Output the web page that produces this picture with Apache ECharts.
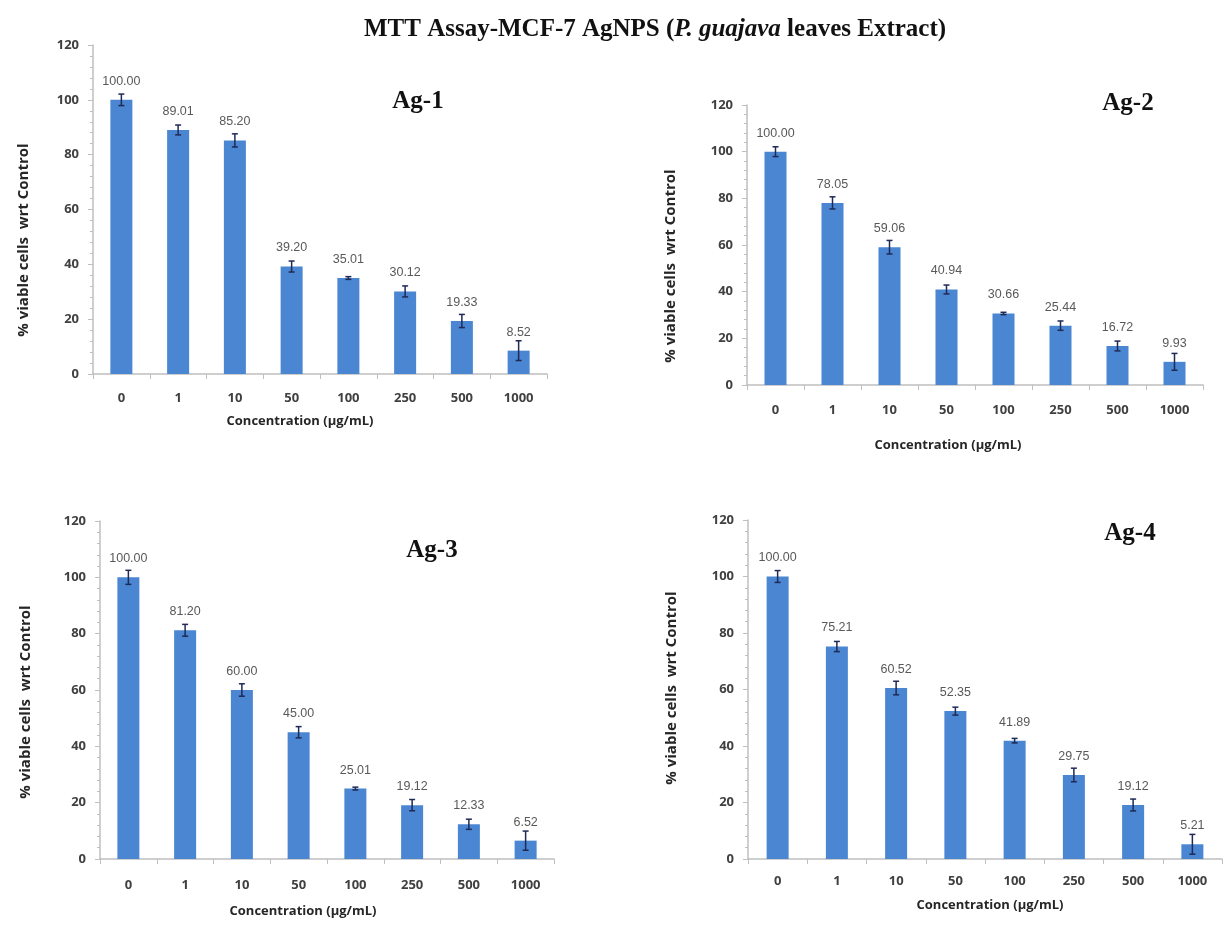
<!DOCTYPE html>
<html>
<head>
<meta charset="utf-8">
<script src="https://cdn.jsdelivr.net/npm/echarts@6/dist/echarts.min.js"></script>
<style>
html,body{margin:0;padding:0;background:#fff;}
#chart{width:1228px;height:928px;}
</style>
</head>
<body>
<div id="chart"></div>
<script>
const categories = ['0', '1', '10', '50', '100', '250', '500', '1000'];
const ag1 = [100.00, 89.01, 85.20, 39.20, 35.01, 30.12, 19.33, 8.52];
const ag1Err = [2.1, 1.8, 2.4, 2.0, 0.5, 2.0, 2.4, 3.6];
const ag2 = [100.00, 78.05, 59.06, 40.94, 30.66, 25.44, 16.72, 9.93];
const ag2Err = [2.1, 2.6, 2.9, 1.9, 0.5, 2.0, 2.1, 3.6];
const ag3 = [100.00, 81.20, 60.00, 45.00, 25.01, 19.12, 12.33, 6.52];
const ag3Err = [2.5, 2.1, 2.2, 2.0, 0.5, 2.0, 1.8, 3.4];
const ag4 = [100.00, 75.21, 60.52, 52.35, 41.89, 29.75, 19.12, 5.21];
const ag4Err = [2.1, 1.8, 2.4, 1.4, 0.8, 2.4, 2.1, 3.5];
const panelNames = ['Ag-1', 'Ag-2', 'Ag-3', 'Ag-4'];
const yMin = 0, yMax = 120, yStep = 20;
const mainTitle = ['MTT Assay-MCF-7 AgNPS (', 'P. guajava', ' leaves Extract)'];
const xTitle = 'Concentration (µg/mL)';
const yTitle = '% viable cells  wrt Control';

const values = [ag1, ag2, ag3, ag4];
const errs = [ag1Err, ag2Err, ag3Err, ag4Err];

const grids = [
  {left: 93, top: 45, width: 454, height: 329},
  {left: 747, top: 105, width: 456, height: 280},
  {left: 100, top: 521, width: 454, height: 338},
  {left: 748, top: 520, width: 474, height: 339}
];
const xLabelMargin = [18, 19, 20, 16];
const axisColor = '#BFBFBF';
const textDark = '#404040';
const barColor = '#4A86D2';
const errColor = '#1F2A55';
const labelFont = 'Open Sans';

const xAxes = [], yAxes = [], series = [];
grids.forEach((g, i) => {
  xAxes.push({
    type: 'category', gridIndex: i, data: categories,
    axisLine: {lineStyle: {color: axisColor, width: 1.5}},
    axisTick: {show: true, alignWithLabel: false, length: 5, lineStyle: {color: axisColor}},
    axisLabel: {color: textDark, fontFamily: labelFont, fontWeight: 'bold', fontSize: 13, margin: xLabelMargin[i]}
  });
  yAxes.push({
    type: 'value', gridIndex: i, min: yMin, max: yMax, interval: yStep,
    axisLine: {show: true, lineStyle: {color: axisColor, width: 1.5}},
    axisTick: {show: true, length: 5, lineStyle: {color: axisColor}},
    minorTick: {show: true, splitNumber: 5, length: 3, lineStyle: {color: axisColor}},
    splitLine: {show: false},
    axisLabel: {color: textDark, fontFamily: labelFont, fontWeight: 'bold', fontSize: 13, margin: 14}
  });
  series.push({
    type: 'bar', xAxisIndex: i, yAxisIndex: i, data: values[i], barWidth: 22,
    itemStyle: {color: barColor},
    label: {show: true, position: 'top', distance: 12, color: '#595959', fontFamily: 'Liberation Sans', fontSize: 12.5,
      formatter: p => p.value.toFixed(2)},
    z: 2
  });
  series.push({
    type: 'custom', xAxisIndex: i, yAxisIndex: i,
    data: values[i].map((v, k) => [k, v - errs[i][k], v + errs[i][k]]),
    renderItem: function (params, api) {
      const x = api.value(0);
      const lo = api.coord([x, api.value(1)]);
      const hi = api.coord([x, api.value(2)]);
      const cw = 3;
      const st = {stroke: errColor, lineWidth: 1.5};
      return {type: 'group', children: [
        {type: 'line', shape: {x1: lo[0], y1: lo[1], x2: hi[0], y2: hi[1]}, style: st},
        {type: 'line', shape: {x1: lo[0] - cw, y1: lo[1], x2: lo[0] + cw, y2: lo[1]}, style: st},
        {type: 'line', shape: {x1: hi[0] - cw, y1: hi[1], x2: hi[0] + cw, y2: hi[1]}, style: st}
      ]};
    },
    z: 3
  });
});

const panelTitlePos = [[418, 102], [1128, 104], [432, 551], [1130, 534]];
const xTitlePos = [[300, 421], [948, 445], [303, 911], [990, 905]];
const yTitlePos = [[24, 240], [671, 266], [26, 702], [672, 688]];

const graphics = [];
graphics.push({
  type: 'text', x: 655, y: 30,
  style: {
    text: '{b|' + mainTitle[0] + '}{i|' + mainTitle[1] + '}{b|' + mainTitle[2] + '}',
    align: 'center', verticalAlign: 'middle',
    rich: {
      b: {fontFamily: 'Liberation Serif', fontWeight: 'bold', fontSize: 25, fill: '#111'},
      i: {fontFamily: 'Liberation Serif', fontWeight: 'bold', fontStyle: 'italic', fontSize: 25, fill: '#111'}
    }
  }
});
panelNames.forEach((n, i) => {
  graphics.push({type: 'text', x: panelTitlePos[i][0], y: panelTitlePos[i][1],
    style: {text: n, align: 'center', verticalAlign: 'middle', fontFamily: 'Liberation Serif', fontWeight: 'bold', fontSize: 25, fill: '#111'}});
  graphics.push({type: 'text', x: xTitlePos[i][0], y: xTitlePos[i][1],
    style: {text: xTitle, align: 'center', verticalAlign: 'middle', fontFamily: labelFont, fontWeight: 'bold', fontSize: 13, fill: '#262626'}});
  graphics.push({type: 'text', x: yTitlePos[i][0], y: yTitlePos[i][1], rotation: Math.PI / 2,
    style: {text: yTitle, align: 'center', verticalAlign: 'middle', fontFamily: labelFont, fontWeight: 'bold', fontSize: 15, fill: '#262626'}});
});

const chart = echarts.init(document.getElementById('chart'), null, {renderer: 'canvas'});
chart.setOption({
  backgroundColor: '#ffffff',
  animation: false,
  grid: grids,
  xAxis: xAxes,
  yAxis: yAxes,
  series: series,
  graphic: graphics
});
</script>
</body>
</html>
